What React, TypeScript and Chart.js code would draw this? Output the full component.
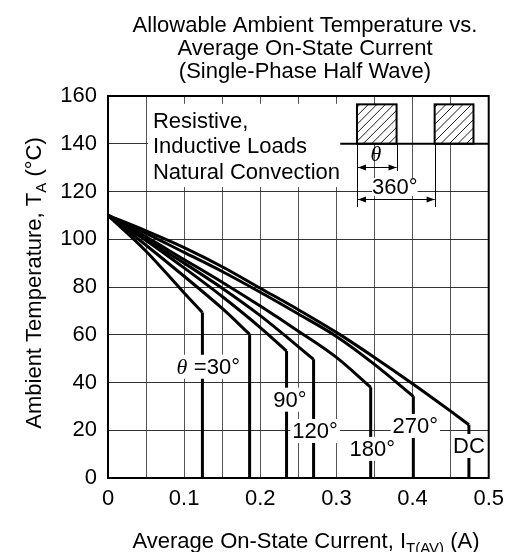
import React, { useEffect, useRef } from "react";
import { Chart, registerables } from "chart.js";

Chart.register(...registerables);

const FONT = '"Liberation Sans", Arial, sans-serif';

// ---- data ----
const xTickLabels = ["0", "0.1", "0.2", "0.3", "0.4", "0.5"];
const yTickLabels = ["0", "20", "40", "60", "80", "100", "120", "140", "160"];

// sloped part of each curve; the last point is the knee, from which the curve drops to 0
const x30 = [0, 0.05, 0.1, 0.124];
const y30 = [110, 95, 77.5, 69.3];
const x60 = [0, 0.05, 0.1, 0.15, 0.186];
const y60 = [110, 97.5, 84.5, 71, 60.2];
const x90 = [0, 0.05, 0.1, 0.15, 0.2, 0.2345];
const y90 = [110, 99.5, 88, 76, 63, 53.2];
const x120 = [0, 0.05, 0.1, 0.15, 0.2, 0.27];
const y120 = [110, 100, 90, 79.5, 68, 49.7];
const x180 = [0, 0.05, 0.1, 0.15, 0.2, 0.25, 0.3, 0.345];
const y180 = [110, 101, 91.5, 82, 72, 61.5, 50.5, 38];
const x270 = [0, 0.05, 0.1, 0.15, 0.2, 0.25, 0.3, 0.35, 0.401];
const y270 = [110, 102.5, 94.5, 86.5, 77.8, 68.7, 59.3, 47.6, 34.2];
const xDC = [0, 0.05, 0.1, 0.15, 0.2, 0.25, 0.3, 0.35, 0.4, 0.45, 0.474];
const yDC = [110, 103.5, 96.5, 88.5, 79.5, 70.5, 61, 50.5, 39.5, 28, 22.3];

const curveXs = [x30, x60, x90, x120, x180, x270, xDC];
const curveYs = [y30, y60, y90, y120, y180, y270, yDC];

// curve labels
const labelTexts = ["=30°", "90°", "120°", "180°", "270°", "DC"];
const labelX = [0.143, 0.239, 0.272, 0.347, 0.4035, 0.474];
const labelY = [46.6, 32.8, 19.7, 12.2, 21.8, 13.4];

const titleLines = [
  "Allowable Ambient Temperature vs.",
  "Average On-State Current",
  "(Single-Phase Half Wave)",
];
const boxLines = ["Resistive,", "Inductive Loads", "Natural Convection"];

export default function App() {
  const ref = useRef<HTMLCanvasElement | null>(null);
  useEffect(() => {
    const canvas = ref.current!;
    const datasets: any[] = [];
    curveXs.forEach((xs, i) => {
      const ys = curveYs[i];
      datasets.push({
        data: xs.map((x, j) => ({ x, y: ys[j] })),
        borderColor: "#000",
        borderWidth: 3,
        pointRadius: 0,
        cubicInterpolationMode: "monotone",
        fill: false,
      });
      const k = xs.length - 1;
      datasets.push({
        data: [
          { x: xs[k], y: ys[k] },
          { x: xs[k], y: 0 },
        ],
        borderColor: "#000",
        borderWidth: 3,
        pointRadius: 0,
        tension: 0,
        fill: false,
      });
    });

    const decor = {
      id: "decor",
      afterDatasetsDraw(chart: any) {
        const ctx: CanvasRenderingContext2D = chart.ctx;
        const xs = chart.scales.x;
        const ys = chart.scales.y;
        const ca = chart.chartArea;
        const px = (v: number) => xs.getPixelForValue(v);
        const py = (v: number) => ys.getPixelForValue(v);
        ctx.save();
        ctx.fillStyle = "#000";
        ctx.textBaseline = "middle";
        ctx.textAlign = "center";
        ctx.font = `22px ${FONT}`;

        // curve labels with white background
        labelTexts.forEach((t, i) => {
          const cx = px(labelX[i]);
          const cy = py(labelY[i]);
          ctx.font = `22px ${FONT}`;
          const w = ctx.measureText(t).width;
          ctx.fillStyle = "#fff";
          if (i === 0) {
            ctx.fillRect(cx - w / 2 - 22, cy - 12, w + 26, 24);
          } else {
            ctx.fillRect(cx - w / 2 - 2, cy - 12, w + 4, 24);
          }
          ctx.fillStyle = "#000";
          ctx.fillText(t, cx, cy + 1);
          if (i === 0) {
            ctx.font = `italic 22px "Liberation Serif", serif`;
            ctx.fillText("θ", cx - w / 2 - 12, cy + 1);
          }
        });

        // text box
        ctx.fillStyle = "#fff";
        ctx.fillRect(px(0.0525), py(156.7), px(0.31) - px(0.0525), py(121.9) - py(156.7));
        ctx.fillStyle = "#000";
        ctx.textAlign = "left";
        ctx.textBaseline = "alphabetic";
        ctx.font = `22px ${FONT}`;
        boxLines.forEach((t, i) => {
          ctx.fillText(t, px(0.059), py(146.6) + i * 25.5);
        });

        // waveform diagram
        const base = py(140);
        const top = py(156.5);
        const rects = [
          [0.327, 0.379],
          [0.429, 0.48],
        ];
        rects.forEach(([a, b]) => {
          const x0 = px(a);
          const x1 = px(b);
          ctx.fillStyle = "#fff";
          ctx.fillRect(x0, top, x1 - x0, base - top);
          ctx.save();
          ctx.beginPath();
          ctx.rect(x0, top, x1 - x0, base - top);
          ctx.clip();
          ctx.strokeStyle = "#000";
          ctx.lineWidth = 0.9;
          const h = base - top;
          for (let k = x0 - h + 3; k < x1 + h; k += 8.5) {
            ctx.beginPath();
            ctx.moveTo(k, base);
            ctx.lineTo(k + h, top);
            ctx.stroke();
          }
          ctx.restore();
          ctx.strokeStyle = "#000";
          ctx.lineWidth = 2;
          ctx.strokeRect(x0, top, x1 - x0, base - top);
        });
        ctx.strokeStyle = "#000";
        ctx.lineWidth = 2;
        ctx.beginPath();
        ctx.moveTo(px(0.305), base);
        ctx.lineTo(ca.right, base);
        ctx.stroke();

        // dimension lines
        ctx.lineWidth = 1;
        const dimX0 = px(0.327);
        const dimX1 = px(0.379);
        const dimX2 = px(0.429);
        const vline = (x: number, y1: number) => {
          ctx.beginPath();
          ctx.moveTo(Math.round(x) + 0.5, base);
          ctx.lineTo(Math.round(x) + 0.5, py(y1));
          ctx.stroke();
        };
        vline(dimX0, 113.5);
        vline(dimX1, 128.6);
        vline(dimX2, 113.5);
        const arrow = (xa: number, xb: number, y: number) => {
          ctx.beginPath();
          ctx.moveTo(xa, y);
          ctx.lineTo(xb, y);
          ctx.stroke();
          ctx.beginPath();
          ctx.moveTo(xa, y);
          ctx.lineTo(xa + 8, y - 3);
          ctx.lineTo(xa + 8, y + 3);
          ctx.closePath();
          ctx.fill();
          ctx.beginPath();
          ctx.moveTo(xb, y);
          ctx.lineTo(xb - 8, y - 3);
          ctx.lineTo(xb - 8, y + 3);
          ctx.closePath();
          ctx.fill();
        };
        ctx.fillStyle = "#000";
        arrow(dimX0 + 1, dimX1, Math.round(py(130.1)) + 0.5);
        arrow(dimX0 + 1, dimX2, Math.round(py(116.7)) + 0.5);
        ctx.textAlign = "center";
        ctx.textBaseline = "middle";
        ctx.font = `italic 22px "Liberation Serif", serif`;
        ctx.fillText("θ", px(0.352), py(135.3));
        ctx.font = `22px ${FONT}`;
        const w360 = ctx.measureText("360°").width;
        ctx.fillStyle = "#fff";
        ctx.fillRect(px(0.3767) - w360 / 2, py(121.9) - 9, w360, 18);
        ctx.fillStyle = "#000";
        ctx.fillText("360°", px(0.3767), py(121.9) + 1);

        // frame
        ctx.strokeStyle = "#000";
        ctx.lineWidth = 2;
        ctx.strokeRect(ca.left, ca.top, ca.right - ca.left, ca.bottom - ca.top);

        // title
        ctx.textAlign = "center";
        ctx.textBaseline = "alphabetic";
        ctx.font = `22px ${FONT}`;
        titleLines.forEach((t, i) => ctx.fillText(t, 305, 31.5 + i * 23.3));

        // x title with subscript
        const xParts: [string, number, number][] = [
          ["Average On-State Current, I", 22, 0],
          ["T(AV)", 15, 5],
          [" (A)", 22, 0],
        ];
        let total = 0;
        xParts.forEach(([t, s]) => {
          ctx.font = `${s}px ${FONT}`;
          total += ctx.measureText(t).width;
        });
        let cx = 306 - total / 2;
        ctx.textAlign = "left";
        xParts.forEach(([t, s, dy]) => {
          ctx.font = `${s}px ${FONT}`;
          ctx.fillText(t, cx, 548 + dy);
          cx += ctx.measureText(t).width;
        });

        // y title rotated
        const yParts: [string, number, number][] = [
          ["Ambient Temperature, T", 22, 0],
          ["A", 15, 5],
          [" (°C)", 22, 0],
        ];
        ctx.save();
        ctx.translate(41, 283);
        ctx.rotate(-Math.PI / 2);
        let ytotal = 0;
        yParts.forEach(([t, s]) => {
          ctx.font = `${s}px ${FONT}`;
          ytotal += ctx.measureText(t).width;
        });
        let cy = -ytotal / 2;
        yParts.forEach(([t, s, dy]) => {
          ctx.font = `${s}px ${FONT}`;
          ctx.fillText(t, cy, dy);
          cy += ctx.measureText(t).width;
        });
        ctx.restore();

        ctx.restore();
      },
    };

    const chart = new Chart(canvas, {
      type: "line",
      data: { datasets },
      options: {
        responsive: false,
        animation: false,
        devicePixelRatio: 1,
        layout: { padding: { top: 96, right: 23, left: 0, bottom: 0 } },
        plugins: {
          legend: { display: false },
          tooltip: { enabled: false },
          title: { display: false },
        },
        scales: {
          x: {
            type: "linear",
            min: 0,
            max: 0.5,
            afterFit: (s: any) => {
              s.height = 74;
            },
            ticks: {
              stepSize: 0.05,
              autoSkip: false,
              maxRotation: 0,
              padding: 8,
              color: "#000",
              font: { family: FONT, size: 22 },
              callback: (v: any) => {
                const k = Math.round(Number(v) * 100);
                return k % 10 === 0 ? xTickLabels[k / 10] : "";
              },
            },
            grid: { color: "#555", drawTicks: false, lineWidth: 1 },
            border: { display: false },
          },
          y: {
            type: "linear",
            min: 0,
            max: 160,
            afterFit: (s: any) => {
              s.width = 108;
            },
            ticks: {
              stepSize: 20,
              padding: 11,
              color: "#000",
              font: { family: FONT, size: 22 },
              callback: (v: any) => yTickLabels[Math.round(Number(v) / 20)],
            },
            grid: { color: "#333", drawTicks: false, lineWidth: 1 },
            border: { display: false },
          },
        },
      },
      plugins: [decor],
    } as any);
    return () => chart.destroy();
  }, []);
  return (
    <canvas
      ref={ref}
      width={512}
      height={552}
      style={{ position: "fixed", left: 0, top: 0, width: 512, height: 552, background: "#fff" }}
    />
  );
}
